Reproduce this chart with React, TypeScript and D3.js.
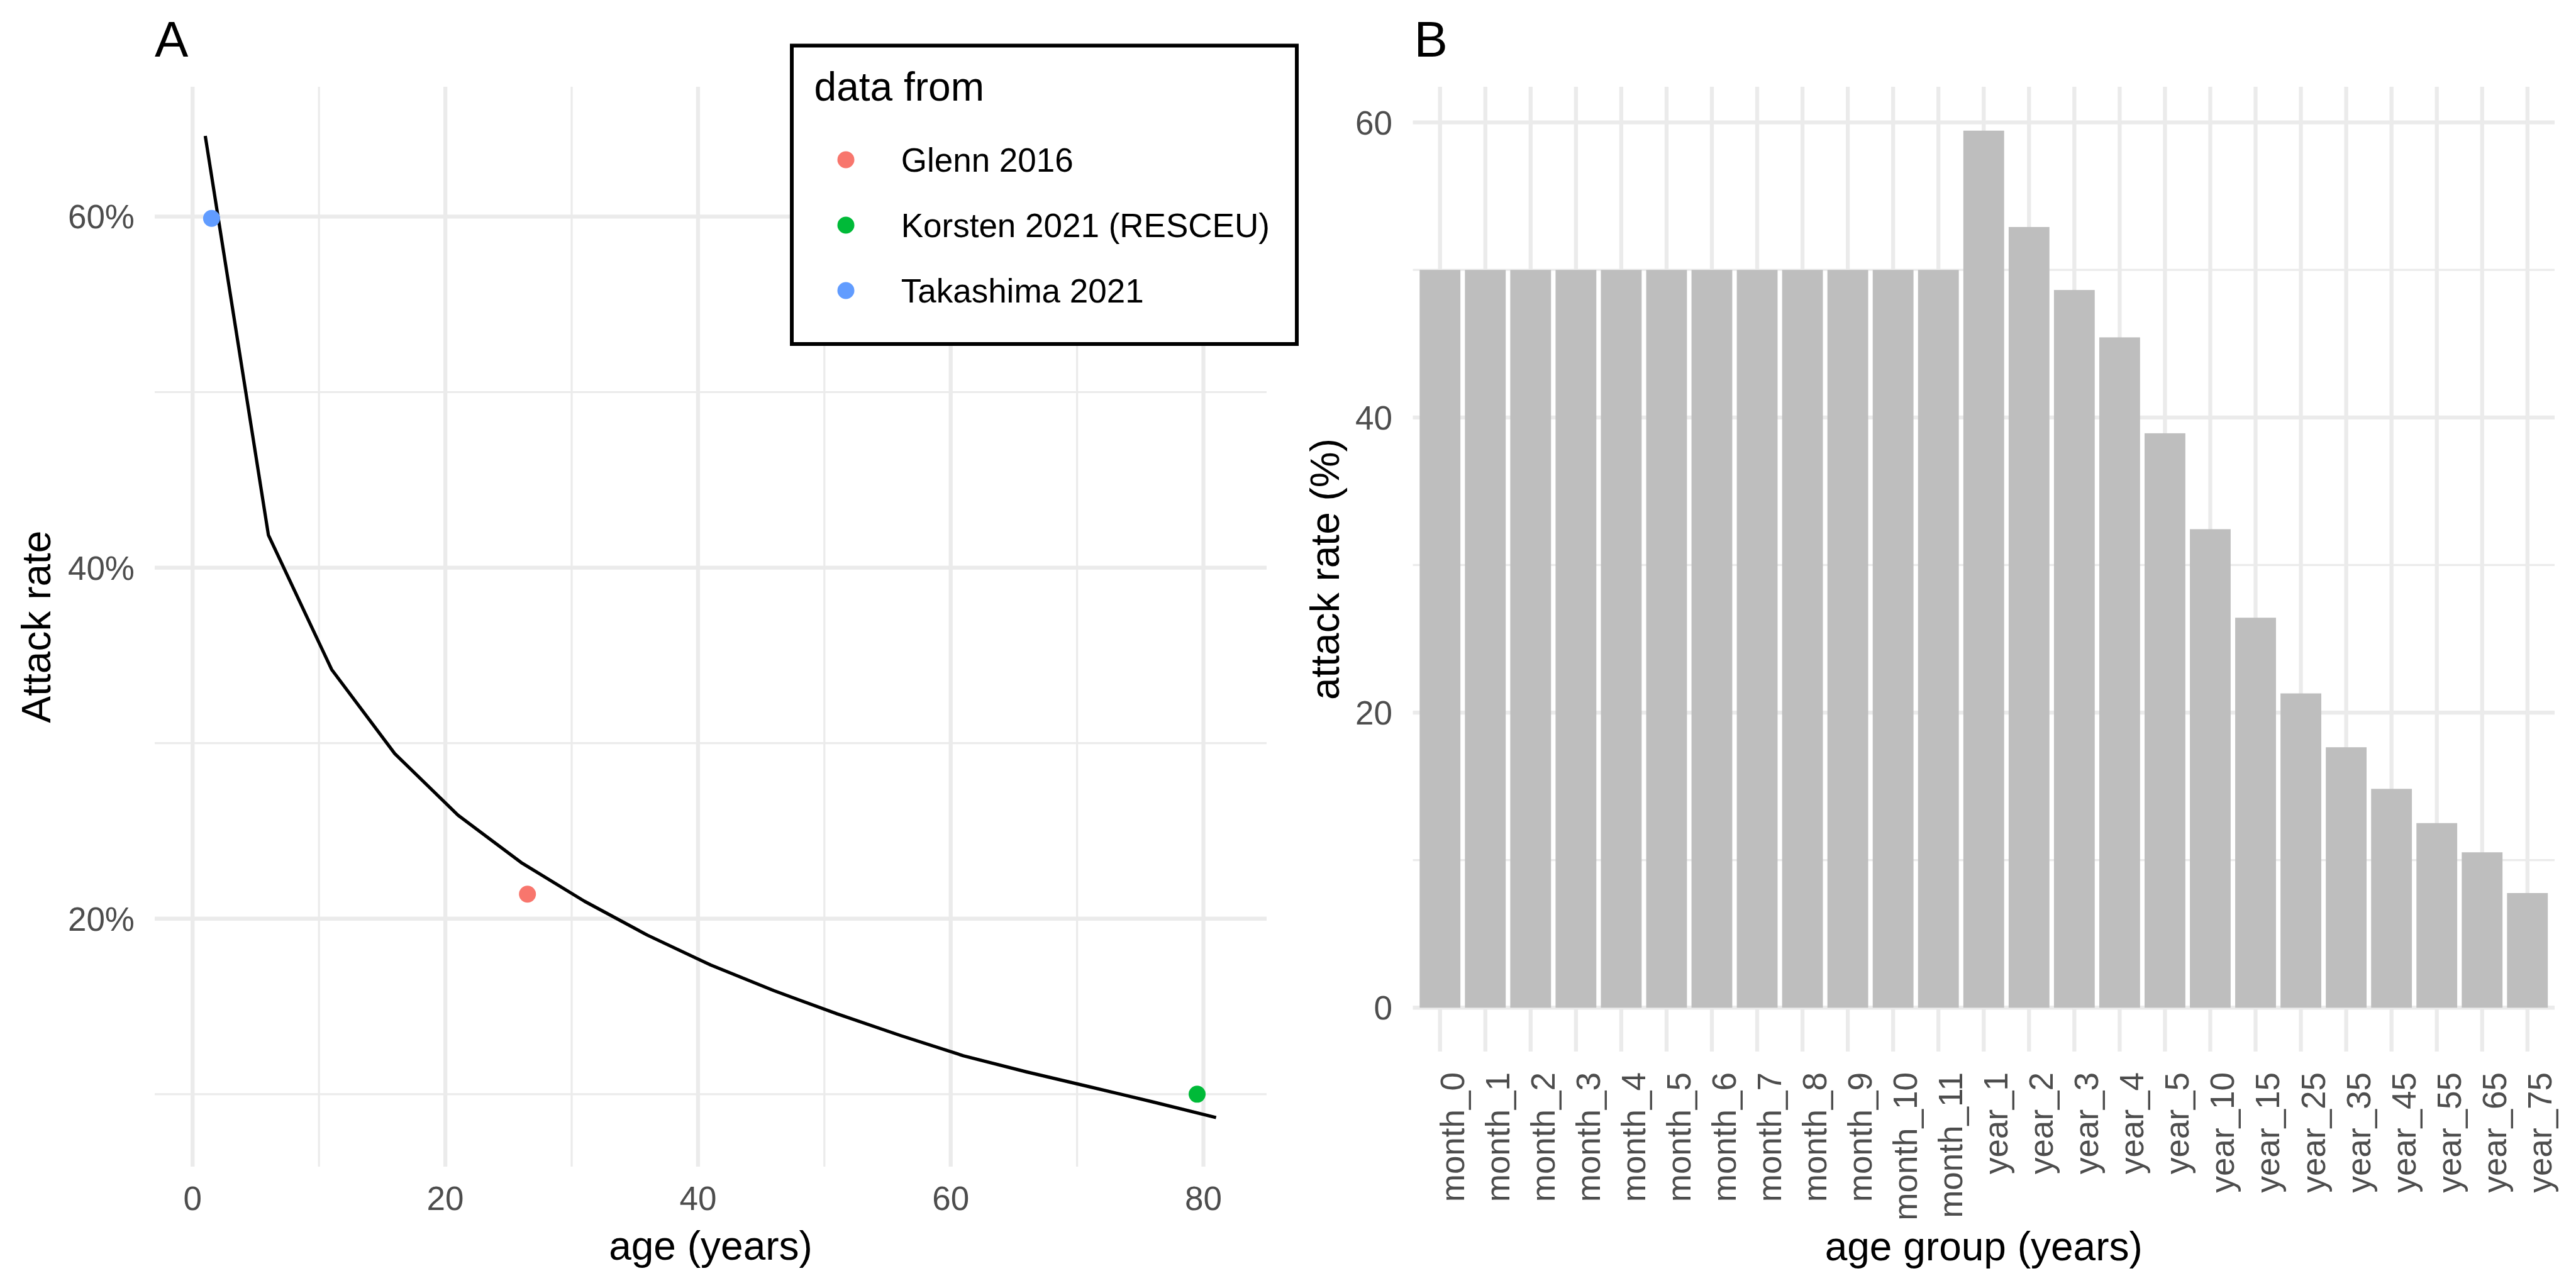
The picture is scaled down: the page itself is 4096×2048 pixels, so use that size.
import * as d3 from 'd3'

// Panel A: fitted attack-rate curve by age
const lineAges = [1, 6, 11, 16, 21, 26, 31, 36, 41, 46, 51, 56, 61, 66, 71, 76, 81]
const lineRates = [64.6, 41.85, 34.2, 29.4, 25.9, 23.2, 21.0, 19.06, 17.36, 15.9, 14.58, 13.35, 12.19, 11.27, 10.42, 9.56, 8.67]

// Panel A: study estimates
const studyNames = ['Glenn 2016', 'Korsten 2021 (RESCEU)', 'Takashima 2021']
const studyAges = [26.5, 79.5, 1.5]
const studyRates = [21.4, 10.0, 59.9]
const studyColors = ['#F8766D', '#00BA38', '#619CFF']

// Panel B: attack rate by age group
const ageGroups = [
  'month_0', 'month_1', 'month_2', 'month_3', 'month_4', 'month_5', 'month_6', 'month_7',
  'month_8', 'month_9', 'month_10', 'month_11', 'year_1', 'year_2', 'year_3', 'year_4',
  'year_5', 'year_10', 'year_15', 'year_25', 'year_35', 'year_45', 'year_55', 'year_65', 'year_75',
]
const groupRates = [
  50, 50, 50, 50, 50, 50, 50, 50, 50, 50, 50, 50,
  59.44, 52.91, 48.64, 45.43, 38.93, 32.43, 26.43, 21.3, 17.65, 14.83, 12.51, 10.53, 7.77,
]

const aXMajor = [0, 20, 40, 60, 80]
const aXMinor = [10, 30, 50, 70]
const aYMajor = [20, 40, 60]
const aYMinor = [10, 30, 50]
const bYMajor = [0, 20, 40, 60]
const bYMinor = [10, 30, 50]

const W = 4096
const H = 2048
const FONT = '"Liberation Sans", Arial, Helvetica, sans-serif'
const GRID = '#EBEBEB'
const TICK = '#4D4D4D'
const TITLE_SIZE = 64
const SMALL_SIZE = 53
const TAG_SIZE = 80

function expand(lo: number, hi: number): [number, number] {
  const d = (hi - lo) * 0.05
  return [lo - d, hi + d]
}

export default function App() {
  // panel A geometry
  const A = { left: 246, right: 2014, top: 138, bottom: 1855 }
  const ax = d3.scaleLinear()
    .domain(expand(d3.min([...lineAges, ...studyAges])!, d3.max([...lineAges, ...studyAges])!))
    .range([A.left, A.right])
  const ay = d3.scaleLinear()
    .domain(expand(d3.min([...lineRates, ...studyRates])!, d3.max([...lineRates, ...studyRates])!))
    .range([A.bottom, A.top])
  const linePath = d3.line<number>()
    .x((_, i) => ax(lineAges[i]))
    .y(d => ay(d))(lineRates)!

  // panel B geometry
  const B = { left: 2246.5, right: 4062, top: 138, bottom: 1672 }
  const bx = d3.scaleBand<string>()
    .domain(ageGroups)
    .range([B.left, B.right])
    .paddingInner(0.1)
    .paddingOuter(0.15)
  const by = d3.scaleLinear()
    .domain(expand(0, d3.max(groupRates)!))
    .range([B.bottom, B.top])

  const capA = SMALL_SIZE * 0.716

  return (
    <svg width={W} height={H} viewBox={`0 0 ${W} ${H}`}
      style={{ position: 'absolute', left: 0, top: 0, background: '#fff' }}
      fontFamily={FONT}>
      <rect x={0} y={0} width={W} height={H} fill="#fff" />

      {/* ---------- Panel A ---------- */}
      <g>
        {aYMinor.map(v => (
          <line key={'aym' + v} x1={A.left} x2={A.right} y1={ay(v)} y2={ay(v)} stroke={GRID} strokeWidth={3.2} />
        ))}
        {aXMinor.map(v => (
          <line key={'axm' + v} x1={ax(v)} x2={ax(v)} y1={A.top} y2={A.bottom} stroke={GRID} strokeWidth={3.2} />
        ))}
        {aYMajor.map(v => (
          <line key={'ayM' + v} x1={A.left} x2={A.right} y1={ay(v)} y2={ay(v)} stroke={GRID} strokeWidth={6.3} />
        ))}
        {aXMajor.map(v => (
          <line key={'axM' + v} x1={ax(v)} x2={ax(v)} y1={A.top} y2={A.bottom} stroke={GRID} strokeWidth={6.3} />
        ))}

        <path d={linePath} fill="none" stroke="#000" strokeWidth={5.2} strokeLinejoin="round" />

        {studyNames.map((n, i) => (
          <circle key={n} cx={ax(studyAges[i])} cy={ay(studyRates[i])} r={13.5} fill={studyColors[i]} />
        ))}

        {aYMajor.map(v => (
          <text key={'ayl' + v} x={214} y={ay(v)} dy={capA / 2}
            textAnchor="end" fontSize={SMALL_SIZE} fill={TICK}>{v}%</text>
        ))}
        {aXMajor.map(v => (
          <text key={'axl' + v} x={ax(v)} y={1923.5} textAnchor="middle" fontSize={SMALL_SIZE} fill={TICK}>{v}</text>
        ))}

        <text x={(A.left + A.right) / 2} y={2003} textAnchor="middle" fontSize={TITLE_SIZE} fill="#000">age (years)</text>
        <text transform={`translate(79.5,${(A.top + A.bottom) / 2}) rotate(-90)`} textAnchor="middle"
          fontSize={TITLE_SIZE} fill="#000">Attack rate</text>

        <text x={A.left} y={89.6} fontSize={TAG_SIZE} fill="#000">A</text>

        {/* legend */}
        <rect x={1259} y={72.5} width={803} height={474.5} fill="#fff" stroke="#000" strokeWidth={6} />
        <text x={1294.6} y={160.4} fontSize={TITLE_SIZE} fill="#000">data from</text>
        {studyNames.map((n, i) => (
          <g key={'lg' + n} transform={`translate(0,${254 + i * 104})`}>
            <circle cx={1345} cy={0} r={13.5} fill={studyColors[i]} />
            <text x={1432.7} y={0} dy={capA / 2} fontSize={SMALL_SIZE} fill="#000">{n}</text>
          </g>
        ))}
      </g>

      {/* ---------- Panel B ---------- */}
      <g>
        {bYMinor.map(v => (
          <line key={'bym' + v} x1={B.left} x2={B.right} y1={by(v)} y2={by(v)} stroke={GRID} strokeWidth={3.2} />
        ))}
        {bYMajor.map(v => (
          <line key={'byM' + v} x1={B.left} x2={B.right} y1={by(v)} y2={by(v)} stroke={GRID} strokeWidth={6.3} />
        ))}
        {ageGroups.map(g => {
          const cx = bx(g)! + bx.bandwidth() / 2
          return <line key={'bxM' + g} x1={cx} x2={cx} y1={B.top} y2={B.bottom} stroke={GRID} strokeWidth={6.3} />
        })}

        {ageGroups.map((g, i) => (
          <rect key={'bar' + g} x={bx(g)} y={by(groupRates[i])} width={bx.bandwidth()}
            height={by(0) - by(groupRates[i])} fill="#BEBEBE" />
        ))}

        {bYMajor.map(v => (
          <text key={'byl' + v} x={2214} y={by(v)} dy={capA / 2} textAnchor="end" fontSize={SMALL_SIZE} fill={TICK}>{v}</text>
        ))}
        {ageGroups.map(g => {
          const cx = bx(g)! + bx.bandwidth() / 2
          return (
            <text key={'bxl' + g} transform={`translate(${cx},1705) rotate(-90)`} dy={capA}
              textAnchor="end" fontSize={SMALL_SIZE} fill={TICK}>{g}</text>
          )
        })}

        <text x={(B.left + B.right) / 2} y={2004} textAnchor="middle" fontSize={TITLE_SIZE} fill="#000">age group (years)</text>
        <text transform={`translate(2129,${(B.top + B.bottom) / 2}) rotate(-90)`} textAnchor="middle"
          fontSize={TITLE_SIZE} fill="#000">attack rate (%)</text>

        <text x={B.left + 2} y={89.6} fontSize={TAG_SIZE} fill="#000">B</text>
      </g>
    </svg>
  )
}
